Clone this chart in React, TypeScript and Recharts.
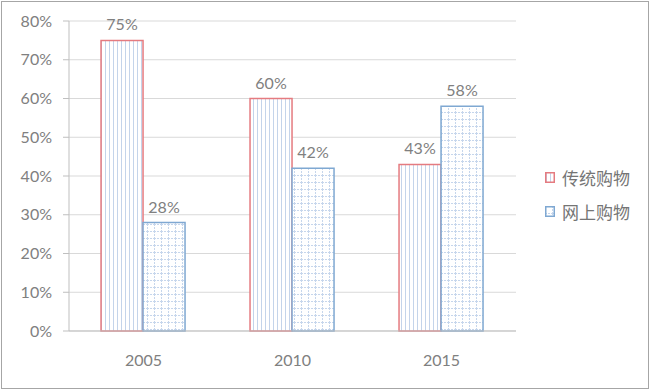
import React from 'react';
import { BarChart, Bar, XAxis, YAxis, CartesianGrid, Legend, LabelList } from 'recharts';

const years = ['2005', '2010', '2015'];
const traditional = [75, 60, 43];
const online = [28, 42, 58];
const seriesNames = ['传统购物', '网上购物'];
const yTicks = [0, 10, 20, 30, 40, 50, 60, 70, 80];
const edgeTicks = [0, 1, 2, 3];

const data = years.map((y, i) => ({ year: y, t: traditional[i], o: online[i] }));

const FONT = "Lato, 'Noto Sans CJK SC', sans-serif";
const TEXT = '#808080';
const RED = '#E57B80';
const BLUE = '#7FA8D2';
const strokes = [RED, BLUE];

const renderLegend = () => (
  <div style={{ fontFamily: FONT, fontSize: 17, color: '#757575' }}>
    {seriesNames.map((n, i) => (
      <div key={n} style={{ display: 'flex', alignItems: 'center', height: 34 }}>
        <svg width={10} height={11} style={{ marginRight: 7 }}>
          <rect x={0.75} y={0.75} width={8.5} height={9.5} fill={`url(#pat${i})`} stroke={strokes[i]} strokeWidth={1.5} />
        </svg>
        <span>{n}</span>
      </div>
    ))}
  </div>
);

export default function App() {
  return (
    <div style={{ position: 'absolute', left: 0, top: 0, width: 650, height: 390, background: '#fff' }}>
      <div style={{ position: 'absolute', left: 1, top: 1, width: 648, height: 388, boxSizing: 'border-box', border: '1px solid #a6a6a6' }} />
      <div style={{ position: 'absolute', left: 0, top: 0 }}>
        <BarChart
          width={650}
          height={390}
          data={data}
          margin={{ top: 21, right: 134, bottom: 29, left: 0 }}
          barCategoryGap="21.5%"
          barGap={0}
        >
          <defs>
            <pattern id="pat0" patternUnits="userSpaceOnUse" width={4} height={4}>
              <rect x={0} y={0} width={4} height={4} fill="#ffffff" />
              <line x1={1.5} y1={0} x2={1.5} y2={4} stroke="#C4D4EA" strokeWidth={1} />
            </pattern>
            <pattern id="pat1" patternUnits="userSpaceOnUse" width={7} height={7}>
              <rect x={0} y={0} width={7} height={7} fill="#ffffff" />
              <path d="M0 0.5 H7 M0.5 0 V7" stroke="#C6D6EC" strokeWidth={1} strokeDasharray="2 1" />
            </pattern>
          </defs>
          <CartesianGrid vertical={false} stroke="#D9D9D9" />
          <XAxis
            xAxisId="edges"
            type="number"
            domain={[0, 3]}
            ticks={edgeTicks}
            tick={false}
            tickSize={5}
            tickLine={{ stroke: '#BFBFBF' }}
            axisLine={false}
            height={0}
            allowDataOverflow
          />
          <XAxis
            dataKey="year"
            axisLine={{ stroke: '#BFBFBF' }}
            tickLine={false}
            height={30}
            tickMargin={18}
            tick={{ fill: TEXT, fontSize: 16, fontFamily: FONT }}
          />
          <YAxis
            width={69}
            domain={[0, 80]}
            ticks={yTicks}
            tickFormatter={(v) => `${v}%`}
            axisLine={{ stroke: '#BFBFBF' }}
            tickLine={{ stroke: '#BFBFBF' }}
            tickSize={6}
            tickMargin={11}
            tick={{ fill: TEXT, fontSize: 16, fontFamily: FONT }}
          />
          <Legend
            layout="vertical"
            align="center"
            verticalAlign="middle"
            content={renderLegend}
            wrapperStyle={{ left: 545, top: 160, width: 100 }}
          />
          <Bar dataKey="t" name={seriesNames[0]} fill="url(#pat0)" stroke={RED} strokeWidth={1.5} isAnimationActive={false}>
            <LabelList dataKey="t" position="top" offset={10} formatter={(v: any) => `${v}%`} fill={TEXT} fontSize={16} fontFamily={FONT} />
          </Bar>
          <Bar dataKey="o" name={seriesNames[1]} fill="url(#pat1)" stroke={BLUE} strokeWidth={1.5} isAnimationActive={false}>
            <LabelList dataKey="o" position="top" offset={10} formatter={(v: any) => `${v}%`} fill={TEXT} fontSize={16} fontFamily={FONT} />
          </Bar>
        </BarChart>
      </div>
    </div>
  );
}
